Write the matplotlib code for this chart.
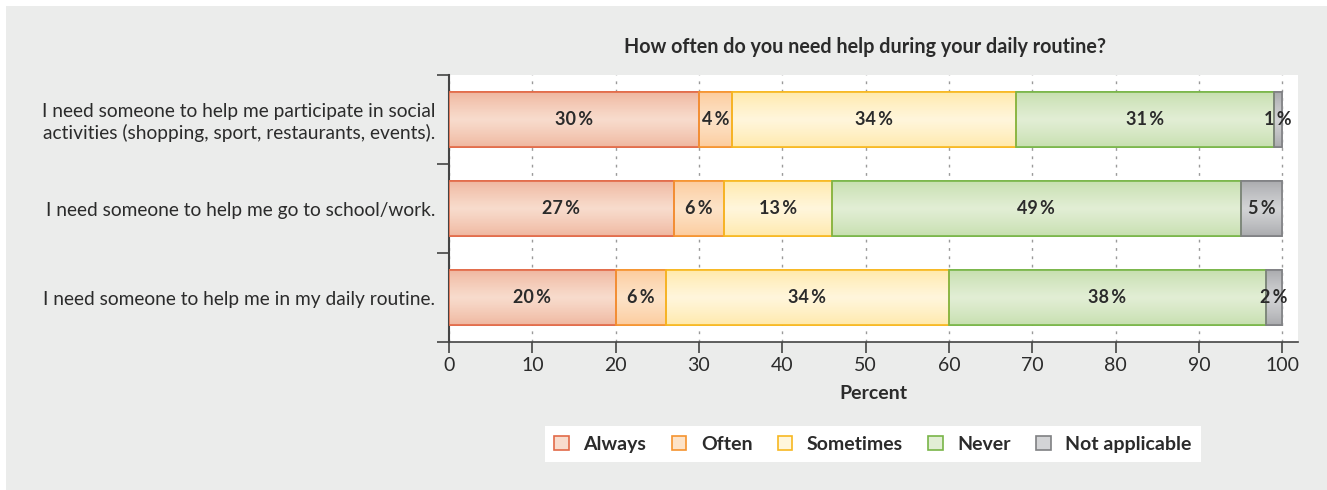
import numpy as np
import matplotlib
matplotlib.use("Agg")
import matplotlib.pyplot as plt
from matplotlib.colors import LinearSegmentedColormap
from matplotlib.patches import Rectangle

plt.rcParams['font.family'] = ['Lato', 'DejaVu Sans']

# data
statements = [
    "I need someone to help me participate in social\nactivities (shopping, sport, restaurants, events).",
    "I need someone to help me go to school/work.",
    "I need someone to help me in my daily routine.",
]
categories = ["Always", "Often", "Sometimes", "Never", "Not applicable"]
always = [30, 27, 20]
often = [4, 6, 6]
sometimes = [34, 13, 34]
never = [31, 49, 38]
not_applicable = [1, 5, 2]
series = [always, often, sometimes, never, not_applicable]

# styles: (edge colour, outer fill, centre fill)
styles = [
    ("#E26A48", "#EFB69E", "#F8DCCD"),
    ("#F5932F", "#FCCB9C", "#FDE3C8"),
    ("#F7B821", "#FFE9AA", "#FFF6DC"),
    ("#79B548", "#C6DFAE", "#E2EED5"),
    ("#7F8083", "#A9AAAD", "#D3D4D6"),
]

W, H = 1327, 490
fig = plt.figure(figsize=(W / 100, H / 100), dpi=100, facecolor="white")
fig.patches.append(Rectangle((6 / W, 0), 1, 1 - 6 / H, transform=fig.transFigure,
                             facecolor="#EBECEB", edgecolor="none", zorder=-10))

ax = fig.add_axes([449 / W, (H - 342) / H, (1298 - 449) / W, (342 - 75) / H])
ax.set_facecolor("white")

y = np.arange(len(statements))
height = 0.61
grad = 1 - np.abs(np.linspace(-1, 1, 64))
grad = grad[:, None] ** 0.8

left = np.zeros(len(statements))
handles = []
for vals, (edge, outer, centre), name in zip(series, styles, categories):
    vals = np.array(vals, dtype=float)
    bars = ax.barh(y, vals, height=height, left=left, color=outer,
                   edgecolor=edge, linewidth=1.2, zorder=3)
    cmap = LinearSegmentedColormap.from_list(name, [outer, centre])
    for b in bars:
        x0, y0 = b.get_x(), b.get_y()
        im = ax.imshow(grad, extent=[x0, x0 + b.get_width(), y0, y0 + b.get_height()],
                       aspect="auto", cmap=cmap, vmin=0, vmax=1, zorder=3.5,
                       interpolation="bilinear")
        im.set_clip_path(b)
        ax.add_patch(Rectangle((x0, y0), b.get_width(), b.get_height(), facecolor="none",
                               edgecolor=edge, linewidth=1.2, zorder=3.6))
    for yi, l, v in zip(y, left, vals):
        ax.text(l + v / 2, yi, f"{v:.0f}\u2009%", ha="center", va="center",
                fontsize=13, fontweight="bold", color="#2B2B2B", zorder=5)
    left = left + vals
    handles.append(Rectangle((0, 0), 1, 1, facecolor=centre, edgecolor=edge, linewidth=1.2))

ax.set_xlim(0, 101.9)
ax.set_ylim(2.5, -0.5)
ax.set_xticks(np.arange(0, 101, 10))
ax.set_yticks(y)
ax.set_yticklabels(statements, fontsize=13.8, color="#2B2B2B")
ax.set_yticks(np.arange(-0.5, 3, 1), minor=True)
ax.tick_params(axis="y", which="major", length=0, pad=10)
ax.tick_params(axis="y", which="minor", length=9, width=1.2, color="#444444")
ax.tick_params(axis="x", length=8, width=1.2, color="#444444", labelsize=14,
               labelcolor="#2B2B2B", pad=3)
for lab in ax.get_yticklabels():
    lab.set_multialignment("right")
    lab.set_linespacing(1.25)

ax.grid(axis="x", color="#9A9A9A", linestyle=(0, (2, 4)), linewidth=1, zorder=0)
ax.set_axisbelow(True)
for s in ["top", "right"]:
    ax.spines[s].set_visible(False)
ax.spines["left"].set_color("#444444")
ax.spines["left"].set_linewidth(1.5)
ax.spines["bottom"].set_color("#444444")
ax.spines["bottom"].set_linewidth(1.2)

ax.set_xlabel("Percent", fontsize=14, fontweight="bold", color="#2B2B2B", labelpad=8)
ax.set_title("How often do you need help during your daily routine?", fontsize=14.2,
             fontweight="bold", color="#2B2B2B", pad=16, x=0.49)

leg = fig.legend(handles, categories, loc="center", bbox_to_anchor=(873 / W, (H - 444) / H),
                 ncol=5, frameon=True, fancybox=False, edgecolor="none", facecolor="white",
                 framealpha=1, handlelength=0.75, handleheight=0.75, columnspacing=1.3,
                 handletextpad=0.75, borderpad=0.5, prop={"weight": "bold", "size": 14})
for t in leg.get_texts():
    t.set_color("#2B2B2B")

fig.savefig("out.png", dpi=100, facecolor=fig.get_facecolor())
